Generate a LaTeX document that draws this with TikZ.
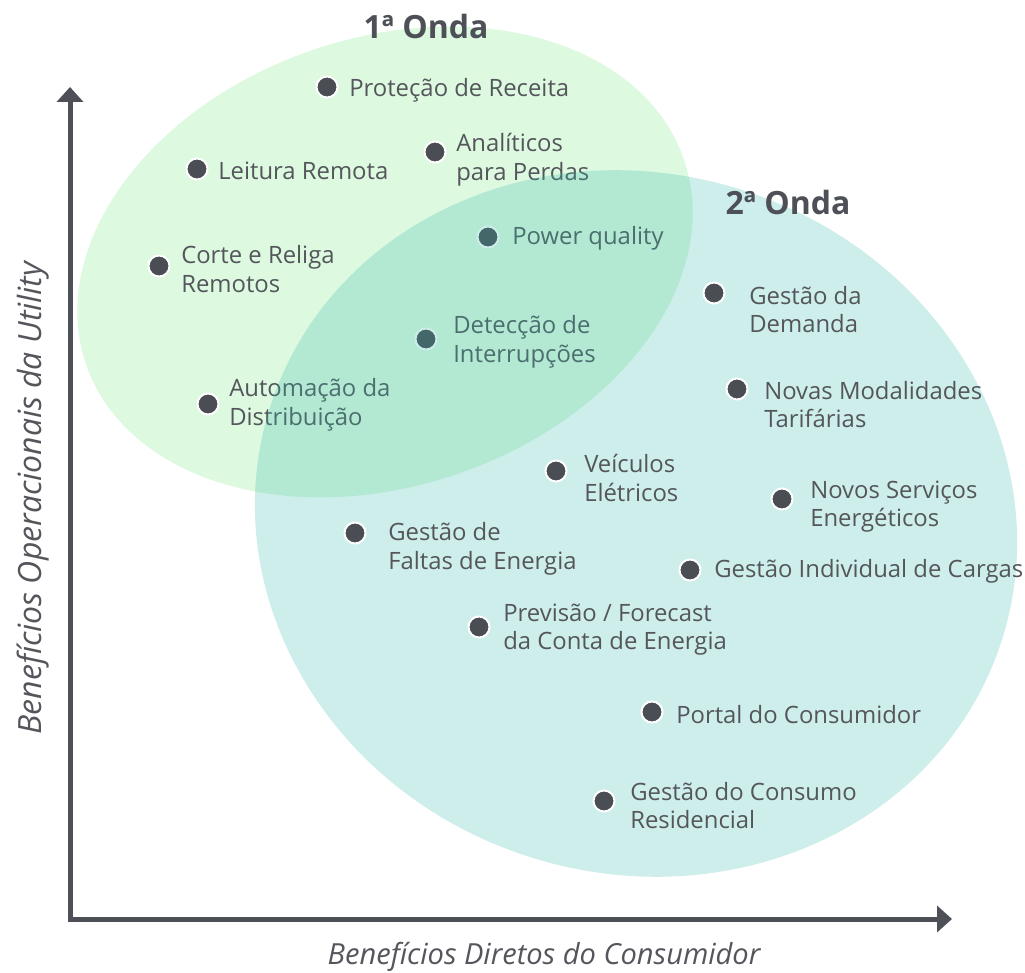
\documentclass[tikz,border=0pt]{standalone}
\usepackage{fontspec}
\setmainfont{Open Sans}
\usetikzlibrary{arrows.meta}
\definecolor{axisc}{HTML}{4D5057}
\definecolor{dotc}{HTML}{4B4D55}
\definecolor{txtc}{HTML}{54565C}
\definecolor{greenfill}{RGB}{221,249,224}
\definecolor{tealfill}{RGB}{49,185,172}
\tikzset{
  dot/.style={circle, fill=dotc, draw=white, line width=1.5pt, inner sep=0pt, minimum size=15.75pt},
  lbl/.style={anchor=west, align=left, inner sep=0pt, yshift=-0.5pt, text=txtc, font=\fontsize{17.9}{21.5}\selectfont},
  wave/.style={text=axisc, font=\fontsize{24}{28}\selectfont\bfseries, inner sep=0pt},
  axislbl/.style={text=txtc, font=\fontsize{21.8}{26}\selectfont\itshape, inner sep=0pt},
  axisline/.style={draw=axisc, line width=3.75pt, line join=miter,
    {Triangle[length=11.25pt,width=19.5pt]}-{Triangle[length=11.25pt,width=19.5pt]}}
}
\begin{document}
\begin{tikzpicture}[x=0.75pt,y=-0.75pt]
\useasboundingbox (0,0) rectangle (1025,973);
% first wave ellipse
\begin{scope}[shift={(385,262)}, rotate=18.9]
  \fill[greenfill] (0,0) ellipse [x radius=316, y radius=224];
\end{scope}
% axes
\coordinate (ytip) at (70,87);
\coordinate (orig) at (70,919);
\coordinate (xtip) at (952,919);
\draw[axisline] (ytip) -- (orig) -- (xtip);
% first-wave items
\node[dot] (d1) at (327,87) {};
\node[lbl] (t1) at (349,90) {Proteção de Receita};
\node[dot] (d2) at (197,169) {};
\node[lbl] (t2) at (218,170) {Leitura Remota};
\node[dot] (d3) at (435,152) {};
\node[lbl] (t3) at (456,159) {Analíticos\\para Perdas};
\node[dot] (d4) at (159,266) {};
\node[lbl] (t4) at (181,268.5) {Corte e Religa\\Remotos};
\node[dot] (d5) at (488,237) {};
\node[lbl] (t5) at (512,238) {Power quality};
\node[dot] (d6) at (426,339) {};
\node[lbl] (t6) at (453,341) {Detecção de\\Interrupções};
\node[dot] (d7) at (208,404) {};
\node[lbl] (t7) at (229,404) {Automação da\\Distribuição};
% second wave ellipse (translucent, over the first-wave items)
\begin{scope}[shift={(636,523.5)}, rotate=-17.5]
  \fill[tealfill, fill opacity=0.243] (0,0) ellipse [x radius=384, y radius=350];
\end{scope}
% second-wave items
\node[dot] (d8) at (714,293) {};
\node[lbl] (t8) at (749,309) {Gestão da\\Demanda};
\node[dot] (d9) at (737,389) {};
\node[lbl] (t9) at (764,404) {Novas Modalidades\\Tarifárias};
\node[dot] (d10) at (556,471) {};
\node[lbl] (t10) at (584,477) {Veículos\\Elétricos};
\node[dot] (d11) at (782,499) {};
\node[lbl] (t11) at (810,506) {Novos Serviços\\Energéticos};
\node[dot] (d12) at (355,533) {};
\node[lbl] (t12) at (388,548) {Gestão de\\Faltas de Energia};
\node[dot] (d13) at (690,570) {};
\node[lbl] (t13) at (714,571) {Gestão Individual de Cargas};
\node[dot] (d14) at (479,627) {};
\node[lbl] (t14) at (503,629) {Previsão / Forecast\\da Conta de Energia};
\node[dot] (d15) at (652,712) {};
\node[lbl] (t15) at (676,714) {Portal do Consumidor};
\node[dot] (d16) at (604,801) {};
\node[lbl] (t16) at (630,805) {Gestão do Consumo\\Residencial};
% titles
\node[wave] (w1) at (426,27) {1ª Onda};
\node[wave] (w2) at (788,203) {2ª Onda};
% axis labels
\node[axislbl] (xl) at (544,957) {Benefícios Diretos do Consumidor};
\node[axislbl, rotate=90, font=\fontsize{24}{28}\selectfont\itshape] (yl) at (33,498) {Benefícios Operacionais da Utility};
\end{tikzpicture}
\end{document}
